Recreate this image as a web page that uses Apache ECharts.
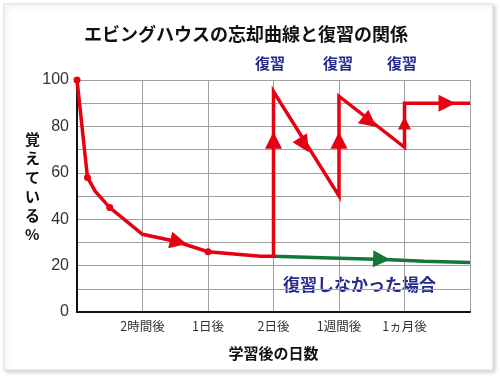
<!DOCTYPE html>
<html>
<head>
<meta charset="utf-8">
<script src="https://cdn.jsdelivr.net/npm/echarts@6/dist/echarts.min.js"></script>
<style>
  html, body { margin: 0; padding: 0; background: #fff; }
  #main { width: 500px; height: 378px; }
</style>
</head>
<body>
<div id="main"></div>
<script>
// x軸：0〜6 の目盛り、ラベルは 1〜5 のみ
var xTickLabels = ['', '2時間後', '1日後', '2日後', '1週間後', '1ヵ月後', ''];

// 復習した場合（赤）
var reviewCurve = [
  [0, 100], [0.16, 58], [0.28, 52], [0.5, 45], [1.0, 33.5], [1.5, 30.5],
  [2.0, 26], [2.8, 24], [3.0, 24], [3.0, 95], [4.0, 50], [4.0, 93],
  [5.0, 71], [5.0, 90], [6.0, 90]
];
// 点を打つ位置（reviewCurve の添字）
var dotIndex = [0, 1, 3, 6];

// 復習しなかった場合（緑）
var noReviewCurve = [[3.0, 24], [4.0, 23.2], [4.7, 22.6], [5.3, 21.9], [6.0, 21.3]];

// 矢印 [x, y, 回転角, 大きさ]
var redArrows = [
  [1.55, 30.2, -104, 17],
  [3.0, 74, 0, 17],
  [3.47, 72, -148, 17],
  [4.0, 74, 0, 17],
  [4.47, 82, -128, 17],
  [5.0, 81.5, 0, 13],
  [5.65, 90, -90, 17]
];
var greenArrows = [[4.65, 22.8, -92, 17]];

var RED = '#e60012';
var GREEN = '#13773a';
var NAVY = '#262a8c';
var JP = '"Noto Sans CJK JP", sans-serif';
var NUM = '"Liberation Sans", "Noto Sans CJK JP", sans-serif';

var chart = echarts.init(document.getElementById('main'));

var redData = reviewCurve.map(function (p, i) {
  return dotIndex.indexOf(i) >= 0 ? { value: p } : { value: p, symbol: 'none' };
});

function arrowSeries(list, color) {
  return {
    type: 'scatter',
    symbol: 'triangle',
    z: 5,
    silent: true,
    itemStyle: { color: color, opacity: 1 },
    data: list.map(function (a) {
      return { value: [a[0], a[1]], symbolRotate: a[2], symbolSize: [a[3], a[3]] };
    })
  };
}

var option = {
  animation: false,
  graphic: [
    {
      type: 'rect', z: -10,
      shape: { x: 4, y: 4, width: 489, height: 366 },
      style: { fill: '#fff', stroke: '#dcdcdc', lineWidth: 1, shadowColor: 'rgba(0,0,0,0.18)', shadowBlur: 4, shadowOffsetX: 2, shadowOffsetY: 2 }
    },
    { type: 'text', left: 272 - 17, top: 56, style: { text: '復習', fill: NAVY, font: 'bold 15px ' + JP } },
    { type: 'text', left: 340 - 17, top: 56, style: { text: '復習', fill: NAVY, font: 'bold 15px ' + JP } },
    { type: 'text', left: 404 - 17, top: 56, style: { text: '復習', fill: NAVY, font: 'bold 15px ' + JP } },
    { type: 'text', left: 283, top: 276, style: { text: '復習しなかった場合', fill: NAVY, font: 'bold 17px ' + JP } },
    {
      type: 'text', left: 25, top: 130,
      style: { text: '覚\nえ\nて\nい\nる\n%', fill: '#111', font: 'bold 15px ' + JP, lineHeight: 19, align: 'left' }
    }
  ],
  title: {
    text: 'エビングハウスの忘却曲線と復習の関係',
    left: 241, top: 20, textAlign: 'center',
    textStyle: { fontFamily: JP, fontSize: 18, fontWeight: 'bold', color: '#111' }
  },
  grid: { left: 77, right: 30, top: 80, bottom: 66 },
  xAxis: {
    type: 'value', min: 0, max: 6, interval: 1,
    name: '学習後の日数', nameLocation: 'middle', nameGap: 34,
    nameTextStyle: { fontFamily: JP, fontSize: 15, fontWeight: 'bold', color: '#111' },
    axisLine: { show: true, onZero: false, lineStyle: { color: '#111', width: 2 } },
    axisTick: { show: false },
    axisLabel: {
      margin: 8, color: '#333', fontFamily: JP, fontSize: 12.5,
      formatter: function (v) { return xTickLabels[Math.round(v)] || ''; }
    },
    splitLine: { show: true, lineStyle: { color: '#a0a0a0', width: 1 } }
  },
  yAxis: {
    type: 'value', min: 0, max: 100, interval: 20,
    axisLine: { show: true, lineStyle: { color: '#111', width: 2 } },
    axisTick: { show: false },
    axisLabel: { margin: 8, color: '#333', fontFamily: NUM, fontSize: 16 },
    splitLine: { show: true, lineStyle: { color: '#a0a0a0', width: 1 } },
    minorTick: { show: false, splitNumber: 2 },
    minorSplitLine: { show: true, lineStyle: { color: '#a0a0a0', width: 1 } }
  },
  series: [
    {
      type: 'line', z: 3, silent: true,
      data: noReviewCurve, symbol: 'none',
      lineStyle: { color: GREEN, width: 3.5 }
    },
    {
      type: 'line', z: 4, silent: true,
      data: redData, symbol: 'circle', symbolSize: 7, showAllSymbol: true,
      itemStyle: { color: RED },
      lineStyle: { color: RED, width: 3.5, join: 'miter' }
    },
    arrowSeries(redArrows, RED),
    arrowSeries(greenArrows, GREEN)
  ]
};

chart.setOption(option);
</script>
</body>
</html>
